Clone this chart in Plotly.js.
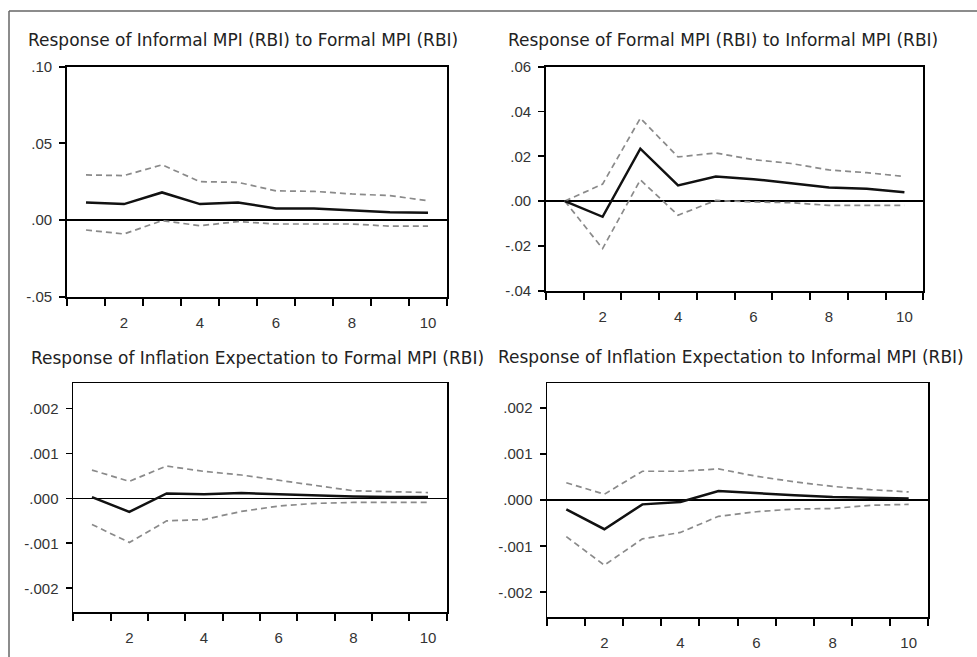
<!DOCTYPE html>
<html>
<head>
<meta charset="utf-8">
<script src="https://cdn.plot.ly/plotly-3.0.1.min.js"></script>
<style>html,body{margin:0;padding:0;background:#fff;}#chart{width:977px;height:657px;}</style>
</head>
<body>
<div id="chart"></div>
<script>
// ---- data ----
const periods = [1,2,3,4,5,6,7,8,9,10];

const titles = [
  "Response of Informal MPI (RBI) to Formal MPI (RBI)",
  "Response of Formal MPI (RBI) to Informal MPI (RBI)",
  "Response of Inflation Expectation to Formal MPI (RBI)",
  "Response of Inflation Expectation to Informal MPI (RBI)"
];

const p1Resp  = [0.0115,0.0104,0.0180,0.0104,0.0115,0.0076,0.0076,0.0061,0.0050,0.0048];
const p1Upper = [0.0294,0.0290,0.0360,0.0250,0.0246,0.0190,0.0187,0.0170,0.0159,0.0126];
const p1Lower = [-0.0065,-0.0091,-0.0004,-0.0037,-0.0010,-0.0026,-0.0026,-0.0026,-0.0040,-0.0040];

const p2Resp  = [0.0000,-0.0070,0.0234,0.0070,0.0110,0.0098,0.0080,0.0061,0.0055,0.0039];
const p2Upper = [0.0000,0.0076,0.0370,0.0197,0.0215,0.0185,0.0168,0.0139,0.0127,0.0110];
const p2Lower = [0.0000,-0.0212,0.0095,-0.0063,0.0003,-0.0004,-0.0007,-0.0019,-0.0019,-0.0019];

const p3Resp  = [0.00003,-0.00030,0.00011,0.00009,0.00012,0.00009,0.00007,0.00004,0.00003,0.00003];
const p3Upper = [0.00063,0.00038,0.00072,0.00060,0.00052,0.00040,0.00028,0.00017,0.00015,0.00013];
const p3Lower = [-0.00058,-0.00098,-0.00050,-0.00047,-0.00029,-0.00017,-0.00011,-0.00009,-0.00009,-0.00009];

const p4Resp  = [-0.00020,-0.00063,-0.00009,-0.00004,0.00020,0.00015,0.00011,0.00007,0.00005,0.00004];
const p4Upper = [0.00038,0.00013,0.00063,0.00063,0.00068,0.00052,0.00040,0.00030,0.00023,0.00018];
const p4Lower = [-0.00079,-0.00141,-0.00084,-0.00070,-0.00035,-0.00025,-0.00019,-0.00018,-0.00011,-0.00009];

const xLabelVals = [2,4,6,8,10];
const xLabelText = ["2","4","6","8","10"];
const xTickMarks = [0.5,1.5,2.5,3.5,4.5,5.5,6.5,7.5,8.5,9.5,10.5];

const y1Vals = [-0.05,0,0.05,0.10];
const y1Text = ["-.05",".00",".05",".10"];
const y2Vals = [-0.04,-0.02,0,0.02,0.04,0.06];
const y2Text = ["-.04","-.02",".00",".02",".04",".06"];
const y34Vals = [-0.002,-0.001,0,0.001,0.002];
const y34Text = ["-.002","-.001",".000",".001",".002"];

// ---- build ----
const W = 977, H = 657;
const px = v => v / W;
const py = v => 1 - v / H;

const panels = [
  {resp:p1Resp, up:p1Upper, lo:p1Lower, x:[67,447], y:[66.7,296.7], yr:[-0.05,0.10], yv:y1Vals, yt:y1Text, tx:26, ty:40},
  {resp:p2Resp, up:p2Upper, lo:p2Lower, x:[546,923.3], y:[66.7,290.7], yr:[-0.04,0.06], yv:y2Vals, yt:y2Text, tx:506, ty:40},
  {resp:p3Resp, up:p3Upper, lo:p3Lower, x:[73.3,446.7], y:[383.3,611.7], yr:[-0.00252,0.00256], yv:y34Vals, yt:y34Text, tx:29, ty:358},
  {resp:p4Resp, up:p4Upper, lo:p4Lower, x:[547.3,927.7], y:[383.3,616.7], yr:[-0.00253,0.00254], yv:y34Vals, yt:y34Text, tx:496, ty:357}
];

const traces = [];
const layout = {
  width: W, height: H,
  margin: {l:0, r:0, t:0, b:0},
  paper_bgcolor: "#fff",
  plot_bgcolor: "#fff",
  showlegend: false,
  font: {family: "Liberation Sans, Arial, sans-serif", color: "#333"},
  annotations: [],
  shapes: [
    {type:"line", xref:"paper", yref:"paper", x0:px(9), x1:1, y0:py(11), y1:py(11), line:{color:"#666", width:1.5}},
    {type:"line", xref:"paper", yref:"paper", x0:px(9), x1:px(9), y0:py(11), y1:0, line:{color:"#666", width:1.5}}
  ]
};

panels.forEach((p, i) => {
  const n = i + 1;
  const xa = n === 1 ? "x" : "x" + n;
  const ya = n === 1 ? "y" : "y" + n;
  const dash = {color:"#8a8a8a", width:1.7, dash:"6px,4px"};
  traces.push({x:periods, y:p.up, xaxis:xa, yaxis:ya, mode:"lines", line:dash, hoverinfo:"skip"});
  traces.push({x:periods, y:p.lo, xaxis:xa, yaxis:ya, mode:"lines", line:dash, hoverinfo:"skip"});
  traces.push({x:periods, y:p.resp, xaxis:xa, yaxis:ya, mode:"lines", line:{color:"#111", width:2.5}, hoverinfo:"skip"});

  layout["xaxis" + (n === 1 ? "" : n)] = {
    domain:[px(p.x[0]), px(p.x[1])],
    anchor: ya,
    range:[0.5,10.5],
    tickmode:"array", tickvals:xLabelVals, ticktext:xLabelText,
    ticks:"outside", ticklen:0, tickcolor:"#000",
    ticklabelstandoff: 11,
    minor:{tickmode:"array", tickvals:xTickMarks, ticks:"outside", ticklen:7, tickwidth:2, tickcolor:"#000"},
    showgrid:false, zeroline:false,
    showline:true, mirror:true, linecolor:"#000", linewidth:1.8,
    tickfont:{size:15, color:"#333"},
    fixedrange:true
  };
  layout["yaxis" + (n === 1 ? "" : n)] = {
    domain:[py(p.y[1]), py(p.y[0])],
    anchor: xa,
    range:p.yr,
    tickmode:"array", tickvals:p.yv, ticktext:p.yt,
    ticks:"outside", ticklen:6, tickwidth:1.8, tickcolor:"#000",
    ticklabelstandoff: 4,
    showgrid:false,
    zeroline:true, zerolinecolor:"#000", zerolinewidth:1.6,
    showline:true, mirror:true, linecolor:"#000", linewidth:1.8,
    tickfont:{size:15, color:"#333"},
    fixedrange:true
  };
  layout.annotations.push({
    text: titles[i], xref:"paper", yref:"paper",
    x: px(p.tx), y: py(p.ty), xanchor:"left", yanchor:"middle",
    showarrow:false, font:{size:17, color:"#222", family:"DejaVu Sans, sans-serif"}
  });
});

Plotly.newPlot("chart", traces, layout, {staticPlot:true, displayModeBar:false});
</script>
</body>
</html>
